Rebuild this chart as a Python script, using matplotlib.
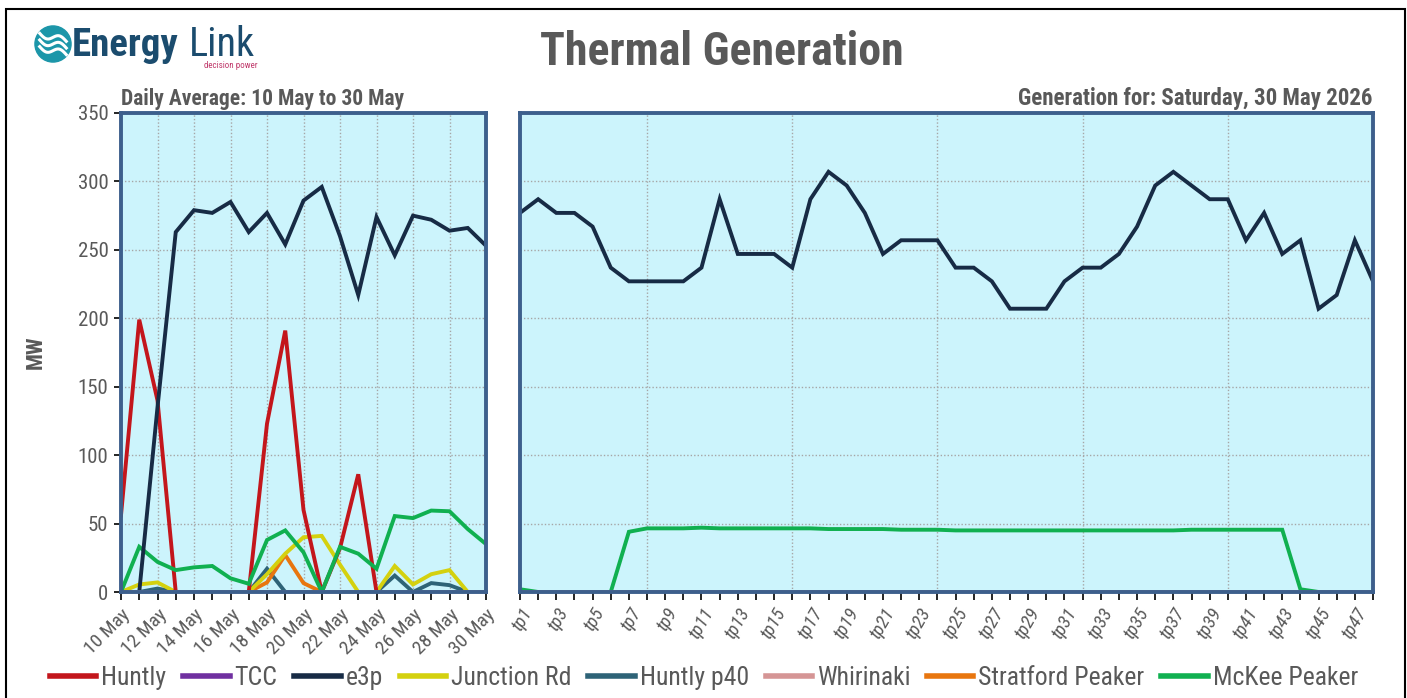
import numpy as np
import matplotlib
matplotlib.use("Agg")
import matplotlib.pyplot as plt
from matplotlib import font_manager
from matplotlib.patches import Rectangle, Circle
from matplotlib.lines import Line2D

# data
days = ['10 May', '11 May', '12 May', '13 May', '14 May', '15 May', '16 May',
        '17 May', '18 May', '19 May', '20 May', '21 May', '22 May', '23 May',
        '24 May', '25 May', '26 May', '27 May', '28 May', '29 May', '30 May']
tps = ['tp%d' % i for i in range(1, 49)]

series_names = ['Huntly', 'TCC', 'e3p', 'Junction Rd', 'Huntly p40',
                'Whirinaki', 'Stratford Peaker', 'McKee Peaker']
series_colors = ['#C3161C', '#7030A0', '#172B45', '#D4D10F', '#2E6377',
                 '#D59595', '#E8760F', '#10B050']

# daily averages (MW)
huntly_daily = [56, 199, 140, 0, 0, 0, 0, 0, 123, 191, 60, 0, 32, 86, 0, 0, 0, 0, 0, 0, 0]
tcc_daily = [0] * 21
e3p_daily = [0, 0, 135, 263, 279, 277, 285, 263, 277, 254, 286, 296, 260, 217,
             274, 246, 275, 272, 264, 266, 253]
junction_daily = [0, 5.5, 7, 0, 0, 0, 0, 0, 13, 28, 40, 41, 20, 0, 0, 19, 5.5, 13, 16, 0, 0]
p40_daily = [0, 0, 2.5, 0, 0, 0, 0, 0, 17, 0, 0, 0, 0, 0, 0, 12, 0, 6.5, 5, 0, 0]
whirinaki_daily = [0] * 21
stratford_daily = [0, 0, 0, 0, 0, 0, 0, 0, 7, 27, 6.5, 0, 0, 0, 0, 0, 0, 0, 0, 0, 0]
mckee_daily = [0, 33, 22, 16, 18, 19, 10, 6, 38, 45, 29, 0, 33, 28, 17, 55.5, 54,
               59.5, 59, 46, 35]

# trading periods for 30 May (MW)
huntly_tp = [0] * 48
tcc_tp = [0] * 48
e3p_tp = [277, 287, 277, 277, 267, 237, 227, 227, 227, 227,
          237, 287, 247, 247, 247, 237, 287, 307, 297, 277,
          247, 257, 257, 257, 237, 237, 227, 207, 207, 207,
          227, 237, 237, 247, 267, 297, 307, 297, 287, 287,
          257, 277, 247, 257, 207, 217, 257, 227]
junction_tp = [0] * 48
p40_tp = [0] * 48
whirinaki_tp = [0] * 48
stratford_tp = [0] * 48
mckee_tp = [2, 0, 0, 0, 0, 0, 44, 46.5, 46.5, 46.5,
            47, 46.5, 46.5, 46.5, 46.5, 46.5, 46.5, 46, 46, 46,
            46, 45.5, 45.5, 45.5, 45, 45, 45, 45, 45, 45,
            45, 45, 45, 45, 45, 45, 45, 45.5, 45.5, 45.5,
            45.5, 45.5, 45.5, 2, 0, 0, 0, 0]

daily = [huntly_daily, tcc_daily, e3p_daily, junction_daily, p40_daily,
         whirinaki_daily, stratford_daily, mckee_daily]
by_tp = [huntly_tp, tcc_tp, e3p_tp, junction_tp, p40_tp, whirinaki_tp,
         stratford_tp, mckee_tp]

# pick a narrow font if there is one
names = set(f.name for f in font_manager.fontManager.ttflist)
narrow = 'DejaVu Sans'
for cand in ['Liberation Sans Narrow', 'Roboto Condensed', 'Open Sans Condensed',
             'Liberation Sans', 'Roboto']:
    if cand in names:
        narrow = cand
        break
plt.rcParams['font.family'] = [narrow, 'DejaVu Sans']

W, H = 1407, 698
fig = plt.figure(figsize=(W / 100, H / 100), dpi=100)
grey = '#595959'
bg = '#CCF4FC'
frame = '#3D5F8C'

def px(x0, y0, x1, y1):
    return [x0 / W, 1 - y1 / H, (x1 - x0) / W, (y1 - y0) / H]

ax1 = fig.add_axes(px(121, 113, 486, 592))
ax2 = fig.add_axes(px(520, 113, 1373, 592))

order = [4, 6, 3, 0, 7, 2, 1, 5]
for ax, data, n in [(ax1, daily, len(days)), (ax2, by_tp, len(tps))]:
    ax.set_facecolor(bg)
    x = np.arange(n)
    for z, k in enumerate(order):
        ax.plot(x, data[k], color=series_colors[k], lw=2.8, zorder=3 + z,
                solid_joinstyle='miter')
    ax.set_ylim(0, 350)
    ax.set_xlim(0, n - 1)
    ax.set_yticks(np.arange(0, 351, 50))
    for yv in range(50, 350, 50):
        ax.axhline(yv, color='#A6A6A6', lw=1.0, ls=(0, (1, 1.5)), zorder=1)
    for s in ax.spines.values():
        s.set_color(frame)
        s.set_linewidth(2.8)
        s.set_zorder(20)
    ax.tick_params(axis='x', direction='out', length=6, width=1.2, color='black')

# left panel
ax1.set_xticks(np.arange(len(days)))
ax1.set_xticklabels([d if i % 2 == 0 else '' for i, d in enumerate(days)],
                    rotation=45, ha='right', rotation_mode='anchor',
                    fontsize=14, color=grey)
for i in range(2, len(days) - 1, 2):
    ax1.axvline(i, color='#A6A6A6', lw=1.0, ls=(0, (1, 1.5)), zorder=1)
ax1.tick_params(axis='y', direction='out', length=5, width=1.2, color='black',
                labelsize=15, labelcolor=grey, pad=4)
ax1.set_ylabel('MW', fontsize=16, fontweight='bold', color=grey, labelpad=22)

# right panel
ax2.set_xticks(np.arange(len(tps)))
ax2.set_xticklabels([t if i % 2 == 0 else '' for i, t in enumerate(tps)],
                    rotation=60, ha='right', rotation_mode='anchor',
                    fontsize=13.5, color=grey, style='italic')
for i in range(7, len(tps) - 1, 8):
    ax2.axvline(i, color='#A6A6A6', lw=1.0, ls=(0, (1, 1.5)), zorder=1)
ax2.tick_params(axis='y', left=False, labelleft=False)

# titles
fig.text(722 / W, 1 - 52 / H, 'Thermal Generation', fontsize=33, fontweight='bold',
         color=grey, ha='center', va='center')
ax1.text(0, 1.006, 'Daily Average: 10 May to 30 May', transform=ax1.transAxes,
         fontsize=15.5, fontweight='bold', color=grey, ha='left', va='bottom')
ax2.text(1, 1.006, 'Generation for: Saturday, 30 May 2026', transform=ax2.transAxes,
         fontsize=16.5, fontweight='bold', color=grey, ha='right', va='bottom')

# logo
lax = fig.add_axes(px(34, 25, 72, 63))
lax.set_xlim(-1, 1)
lax.set_ylim(-1, 1)
lax.axis('off')
lax.add_patch(Circle((0, 0), 0.95, color='#1C96A9'))
t = np.linspace(-0.7, 0.7, 50)
for off in (-0.35, 0.0, 0.35):
    lax.plot(t, off + 0.18 * np.sin(t * 4.5) - 0.3 * t, color='white', lw=2.2)
fig.text(72 / W, 1 - 56 / H, 'Energy', fontsize=28, fontweight='bold',
         color='#1B4C6E', ha='left', va='baseline')
fig.text(189 / W, 1 - 56 / H, 'Link', fontsize=29, color='#1B4C6E',
         ha='left', va='baseline')
fig.text(257 / W, 1 - 65 / H, 'decision power', fontsize=6.5, color='#C0396B',
         ha='right', va='center')

# legend
handles = [Line2D([0], [0], color=c, lw=4) for c in series_colors]
fig.legend(handles, series_names, loc='center', bbox_to_anchor=(704 / W, 1 - 678 / H),
           ncol=8, frameon=False, fontsize=18.5, labelcolor=grey,
           handlelength=1.8, handletextpad=0.2, columnspacing=0.65)

# outer frame
fig.add_artist(Rectangle((6 / W, -0.01), (1405 - 6) / W, 1 - 9 / H + 0.01,
                         transform=fig.transFigure, fill=False,
                         edgecolor='black', lw=1.5))

fig.savefig('out.png', dpi=100)
